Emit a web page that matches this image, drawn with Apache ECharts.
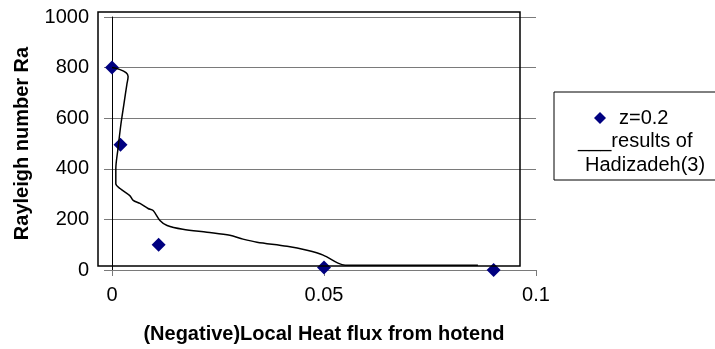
<!DOCTYPE html>
<html>
<head>
<meta charset="utf-8">
<script src="https://cdn.jsdelivr.net/npm/echarts@6/dist/echarts.min.js"></script>
<style>
  html, body { margin: 0; padding: 0; background: #fff; }
  #chart { width: 715px; height: 349px; }
</style>
</head>
<body>
<div id="chart"></div>
<script>
// measured points, z=0.2
const pointX = [0, 0.002, 0.011, 0.05, 0.09]
const pointY = [800, 495, 100, 10, 0]

// results of Hadizadeh(3)
const curveX = [0, 0.0019, 0.0033, 0.0038, 0.0035, 0.0028, 0.0021, 0.0014, 0.0009, 0.0009,
  0.0019, 0.0042, 0.005, 0.0066, 0.0085, 0.0097, 0.0113, 0.013, 0.0167, 0.0224,
  0.0278, 0.0309, 0.0342, 0.0413, 0.046, 0.0498, 0.0533, 0.055, 0.0863]
const curveY = [800, 792, 780, 765, 733, 655, 576, 478, 400, 341,
  322, 294, 275, 263, 243, 235, 196, 176, 161, 149,
  137, 122, 110, 94, 78, 59, 27, 19, 19]

const xTicks = [0, 0.05, 0.1]
const yTicks = [0, 200, 400, 600, 800, 1000]

const font = 'Liberation Sans, Arial, sans-serif'
const gridGray = '#7a7a7a'

const chart = echarts.init(document.getElementById('chart'))

chart.setOption({
  animation: false,
  grid: { left: 112, right: 179, top: 17, bottom: 77 },
  xAxis: {
    type: 'value',
    min: xTicks[0],
    max: xTicks[xTicks.length - 1],
    interval: 0.05,
    name: '(Negative)Local Heat flux from hotend',
    nameLocation: 'middle',
    nameGap: 54,
    nameTextStyle: { fontFamily: font, fontSize: 20, fontWeight: 'bold', color: '#000' },
    axisLine: { show: true, onZero: false, lineStyle: { color: gridGray, width: 1 } },
    axisTick: { show: true, length: 6, lineStyle: { color: gridGray } },
    axisLabel: { margin: 15, fontFamily: font, fontSize: 20, color: '#000',
      formatter: v => String(Number(v.toFixed(2))) },
    splitLine: { show: false }
  },
  yAxis: {
    type: 'value',
    min: yTicks[0],
    max: yTicks[yTicks.length - 1],
    interval: 200,
    name: 'Rayleigh number Ra',
    nameLocation: 'middle',
    nameGap: 80,
    nameTextStyle: { fontFamily: font, fontSize: 20, fontWeight: 'bold', color: '#000' },
    axisLine: { show: true, lineStyle: { color: '#000', width: 1 } },
    axisTick: { show: true, length: 8, lineStyle: { color: gridGray } },
    axisLabel: { margin: 23, fontFamily: font, fontSize: 20, color: '#000',
      formatter: v => String(v) },
    splitLine: { show: true, lineStyle: { color: gridGray, width: 1 } }
  },
  legend: {
    left: 589,
    top: 103,
    itemWidth: 12,
    itemHeight: 12,
    data: [{ name: 'z=0.2', icon: 'diamond' }],
    textStyle: { fontFamily: font, fontSize: 20, color: '#000', padding: [0, 0, 0, 8] }
  },
  graphic: [
    // frame of pasted curve
    { type: 'rect', shape: { x: 98, y: 12, width: 422, height: 254 }, z: 100,
      style: { fill: 'none', stroke: '#000', lineWidth: 1.5 } },
    // legend box, runs off the right edge
    { type: 'rect', shape: { x: 554, y: 92, width: 190, height: 88 },
      style: { fill: '#fff', stroke: '#000', lineWidth: 1 } },
    { type: 'text', left: 578, top: 131, z: 10,
      style: { text: '___results of', fontFamily: font, fontSize: 20, fill: '#000' } },
    { type: 'text', left: 585, top: 155, z: 10,
      style: { text: 'Hadizadeh(3)', fontFamily: font, fontSize: 20, fill: '#000' } }
  ],
  series: [
    {
      name: 'z=0.2',
      type: 'scatter',
      symbol: 'diamond',
      symbolSize: 14,
      itemStyle: { color: '#000080', opacity: 1 },
      z: 2,
      data: pointX.map((x, i) => [x, pointY[i]])
    },
    {
      name: 'results of Hadizadeh(3)',
      type: 'line',
      smooth: 0.3,
      showSymbol: false,
      lineStyle: { color: '#000', width: 1.5 },
      z: 3,
      data: curveX.map((x, i) => [x, curveY[i]])
    }
  ]
})
</script>
</body>
</html>
